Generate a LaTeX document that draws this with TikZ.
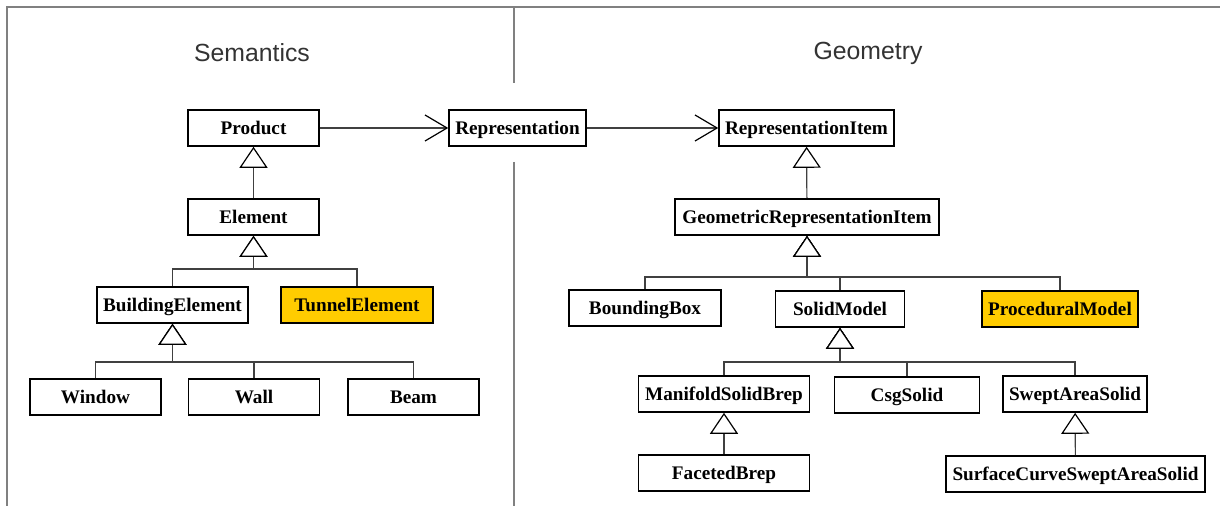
\documentclass[tikz,border=0pt]{standalone}
\usepackage{xcolor}
\usepackage{fontspec}
\setmainfont{Liberation Serif}
\newfontfamily\headfont{Liberation Sans}
\usepackage{tikz}
\usetikzlibrary{arrows.meta}
\definecolor{tunnelgold}{HTML}{FFCC00}
\tikzstyle{umlclass} = [rectangle, draw=black, line width=0.8pt, minimum height=18pt, inner xsep=2pt, inner ysep=0pt, text height=6.4pt, text depth=0pt, text centered, font=\bfseries\fontsize{9.6}{10}\selectfont]
\tikzstyle{hilite} = [umlclass, fill=tunnelgold]
\tikzstyle{assoc} = [black!75, line width=0.6pt, -{Straight Barb[length=11pt,width=13pt,color=black]}]
\tikzstyle{inherit} = [black!75, line width=0.6pt, -{Triangle[open,length=10.5pt,width=14pt,fill=white,color=black]}]
\tikzstyle{heading} = [font=\headfont\fontsize{12.4}{14}\selectfont, text=black!80]
\tikzstyle{frame} = [black!50, line width=0.9pt]

\begin{document}
\begin{tikzpicture}[x=0.5pt,y=-0.5pt]
\useasboundingbox (0,0) rectangle (1220,506);

%==============================================
%Frame and titles
%==============================================
\draw [frame] (7,506) -- (7,7) -- (1220,7);
\draw [frame, line width=0.7pt] (514,7) -- (514,83);
\draw [frame, line width=0.7pt] (514,162) -- (514,506);
\node (semtitle) [heading] at (252,53) {Semantics};
\node (geotitle) [heading] at (868,53) {Geometry};

%Semantics==============================================
\node (sem1) [umlclass, minimum width=65.5pt] at (253.5,128) {Product};
\node (sem2) [umlclass, minimum width=65.5pt] at (253.5,217) {Element};
\node (sem3) [umlclass, minimum width=75.5pt] at (172.5,305) {BuildingElement};
\node (sem4) [hilite, minimum width=76pt] at (357,305) {TunnelElement};
\node (sem5) [umlclass, minimum width=65.5pt] at (95.5,397) {Window};
\node (sem6) [umlclass, minimum width=65.5pt] at (254,397) {Wall};
\node (sem7) [umlclass, minimum width=65.5pt] at (413.5,397) {Beam};

%Representation==============================================
\node (rep) [umlclass, minimum width=68.5pt] at (517.5,128) {Representation};

%Geometry==============================================
\node (geo1) [umlclass, minimum width=87.5pt] at (806.5,128) {RepresentationItem};
\node (geo2) [umlclass, minimum width=132pt] at (807,217) {GeometricRepresentationItem};
\node (geo3) [umlclass, minimum width=76pt] at (645,308) {BoundingBox};
\node (geo4) [umlclass, minimum width=64.5pt] at (840,309) {SolidModel};
\node (geo5) [hilite, minimum width=78pt] at (1060,309) {ProceduralModel};
\node (geo6) [umlclass, minimum width=85.5pt] at (724,394) {ManifoldSolidBrep};
\node (geo7) [umlclass, minimum width=72.5pt] at (907,395) {CsgSolid};
\node (geo8) [umlclass, minimum width=72pt] at (1075,394) {SweptAreaSolid};
\node (geo9) [umlclass, minimum width=85.5pt] at (724,473) {FacetedBrep};
\node (geo10) [umlclass, minimum width=129.5pt] at (1075.5,474) {SurfaceCurveSweptAreaSolid};

%==============================================
\coordinate (j1) at (253.5,269);
\coordinate (j2) at (172.5,362);
\coordinate (j3) at (807,277);
\coordinate (j4) at (840,362);

\draw [assoc] (sem1) -- (rep);
\draw [assoc] (rep) -- (geo1);

\draw [inherit] (sem2) -- (sem1);
\draw [inherit] (sem3.north) |- (j1) -- (sem2.south);
\draw [inherit] (sem4.north) |- (j1) -- (sem2.south);
\draw [inherit] (sem5.north) |- (j2) -- (sem3.south);
\draw [inherit] (sem6.north) |- (j2) -- (sem3.south);
\draw [inherit] (sem7.north) |- (j2) -- (sem3.south);

\draw [inherit] (geo2) -- (geo1);
\draw [inherit] (geo3.north) |- (j3) -- (geo2.south);
\draw [inherit] (geo4.north) |- (j3) -- (geo2.south);
\draw [inherit] (geo5.north) |- (j3) -- (geo2.south);
\draw [inherit] (geo6.north) |- (j4) -- (geo4.south);
\draw [inherit] (geo7.north) |- (j4) -- (geo4.south);
\draw [inherit] (geo8.north) |- (j4) -- (geo4.south);
\draw [inherit] (geo9) -- (geo6);
\draw [inherit] (geo10) -- (geo8);
\end{tikzpicture}
\end{document}
